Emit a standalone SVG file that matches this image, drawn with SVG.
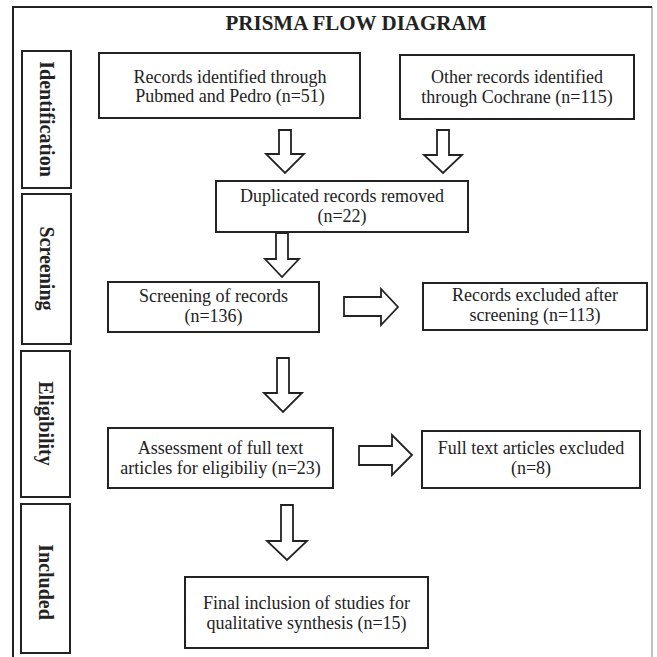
<svg xmlns="http://www.w3.org/2000/svg" width="657" height="657" viewBox="0 0 657 657">
<style>
.box{fill:#fff;stroke:#222;stroke-width:2}
.t{font-family:"Liberation Serif","Times New Roman",serif;font-size:18px;fill:#222;text-anchor:middle}
.side{font-family:"Liberation Serif","Times New Roman",serif;font-size:20px;font-weight:bold;fill:#222;text-anchor:middle}
.arrow{fill:#fff;stroke:#222;stroke-width:1.8;stroke-linejoin:miter}
</style>
<rect x="0" y="0" width="657" height="657" fill="#fff"/>
<g id="frame">
<path d="M652,7 V657" fill="none" stroke="#aaa" stroke-width="1.5"/>
<path d="M13,657 V7 H652" fill="none" stroke="#222" stroke-width="2"/>
<text x="356" y="30" font-family="Liberation Serif,'Times New Roman',serif" font-size="21" font-weight="bold" fill="#222" text-anchor="middle">PRISMA FLOW DIAGRAM</text>
</g>
<g id="stage-identification">
<rect class="box" x="22" y="51" width="49" height="137"/>
<text class="side" transform="translate(46.5,119) rotate(90)" y="7">Identification</text>
</g>
<g id="stage-screening">
<rect class="box" x="22" y="194" width="49" height="150"/>
<text class="side" transform="translate(46.5,268.5) rotate(90)" y="7">Screening</text>
</g>
<g id="stage-eligibility">
<rect class="box" x="21" y="351" width="49" height="146"/>
<text class="side" transform="translate(45.5,423.5) rotate(90)" y="7">Eligibility</text>
</g>
<g id="stage-included">
<rect class="box" x="21" y="504" width="49" height="149"/>
<text class="side" transform="translate(45.5,582) rotate(90)" y="7">Included</text>
</g>
<g id="connectors">
<path class="arrow" d="M279,130 H291 V154 H304 L285,173 L266,154 H279 Z"/>
<path class="arrow" d="M437,130 H449 V155 H462 L443,173 L424,155 H437 Z"/>
<path class="arrow" d="M276,233 H288 V259 H299 L282,277 L265,259 H276 Z"/>
<path class="arrow" d="M277,358 H289 V393 H302 L283,412 L264,393 H277 Z"/>
<path class="arrow" d="M281,505 H293 V541 H307 L287,560 L267,541 H281 Z"/>
<path class="arrow" d="M344,297 H381 V289 L398,307 L381,325 V316 H344 Z"/>
<path class="arrow" d="M359,446 H392 V435 L412,455 L392,475 V465 H359 Z"/>
</g>
<g id="n-pubmed">
<rect class="box" x="99" y="53" width="261" height="65"/>
<text class="t" x="230" y="83">Records identified through</text>
<text class="t" x="230" y="102">Pubmed and Pedro (n=51)</text>
</g>
<g id="n-cochrane">
<rect class="box" x="400" y="55" width="234" height="64"/>
<text class="t" x="517" y="83">Other records identified</text>
<text class="t" x="517" y="103">through Cochrane (n=115)</text>
</g>
<g id="n-duplicates">
<rect class="box" x="216" y="181" width="252" height="51"/>
<text class="t" x="342" y="202">Duplicated records removed</text>
<text class="t" x="342" y="222">(n=22)</text>
</g>
<g id="n-screening">
<rect class="box" x="108" y="282" width="211" height="50"/>
<text class="t" x="213.5" y="302">Screening of records</text>
<text class="t" x="213.5" y="322">(n=136)</text>
</g>
<g id="n-excluded-screening">
<rect class="box" x="423" y="283" width="224" height="47"/>
<text class="t" x="535" y="301">Records excluded after</text>
<text class="t" x="535" y="321">screening (n=113)</text>
</g>
<g id="n-assessment">
<rect class="box" x="108" y="428" width="225" height="60"/>
<text class="t" x="220.5" y="454">Assessment of full text</text>
<text class="t" x="220.5" y="474">articles for eligibiliy (n=23)</text>
</g>
<g id="n-excluded-fulltext">
<rect class="box" x="422" y="431" width="218" height="57"/>
<text class="t" x="531" y="454">Full text articles excluded</text>
<text class="t" x="531" y="474">(n=8)</text>
</g>
<g id="n-final">
<rect class="box" x="185" y="577" width="243" height="71"/>
<text class="t" x="306.5" y="609">Final inclusion of studies for</text>
<text class="t" x="306.5" y="629">qualitative synthesis (n=15)</text>
</g>
</svg>
